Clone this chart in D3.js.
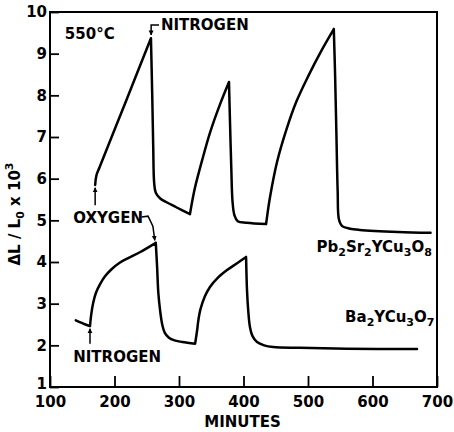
<!DOCTYPE html>
<html>
<head>
<meta charset="utf-8">
<script src="https://cdn.jsdelivr.net/npm/d3@7"></script>
<style>
  body { margin: 0; background: #fff; }
  text { font-family: 'DejaVu Sans', sans-serif; font-weight: bold; fill: #000; }
</style>
</head>
<body>
<script>
// minutes vs dL/L0 x 10^3
let pbCurve = [
  [170, 5.85], [172, 6.08], [177, 6.28], [217, 7.83], [256.5, 9.37], [258.5, 8.0], [260, 6.8],
  [261.5, 5.9], [264, 5.66], [270.5, 5.53], [280, 5.44], [295, 5.32], [317, 5.15],
  [321, 5.5], [325, 5.8], [336, 6.45], [348, 7.1], [364, 7.8], [377.5, 8.32],
  [379, 7.4], [381, 6.3], [383, 5.45], [386, 5.12], [391, 4.98], [405, 4.94],
  [435, 4.91], [438, 5.25], [441, 5.55], [452, 6.4], [467, 7.2], [482, 7.85],
  [500, 8.45], [520, 9.05], [540, 9.59], [542, 8.5], [544, 7.1], [546, 5.7],
  [548, 5.02], [553, 4.86], [565, 4.8], [580, 4.77], [640, 4.72], [690, 4.7],
];
let baCurve = [
  [140, 2.6], [155, 2.5], [162, 2.46], [164, 2.75], [167, 3.02], [171, 3.25],
  [177, 3.45], [185, 3.65], [195, 3.82], [208, 3.98], [222, 4.1], [240, 4.24],
  [264, 4.46], [266, 3.9], [268, 3.25], [271, 2.8], [274, 2.5], [278, 2.3],
  [284, 2.19], [291, 2.13], [305, 2.08], [325, 2.04], [328, 2.35], [330, 2.6],
  [333, 2.85], [340, 3.17], [348, 3.4], [360, 3.62], [374, 3.8], [390, 3.97],
  [404, 4.12], [405.5, 3.3], [407.5, 2.8], [410, 2.44], [414, 2.22], [421, 2.08],
  [432, 2.0], [446, 1.96], [487, 1.94], [560, 1.92], [669, 1.91],
];
let xTicks = [100, 200, 300, 400, 500, 600, 700];
let yTicks = [1, 2, 3, 4, 5, 6, 7, 8, 9, 10];

let dim = { width: 454, height: 432 };
let margin = { left: 50, right: 17, top: 12, bottom: 45 };
let w = dim.width - margin.left - margin.right;
let h = dim.height - margin.top - margin.bottom;

let svg = d3.select('body').append('svg').attr('width', dim.width).attr('height', dim.height);

let defs = svg.append('defs');
defs.append('marker')
  .attr('id', 'arr')
  .attr('viewBox', '0 0 10 10')
  .attr('refX', 9).attr('refY', 5)
  .attr('markerWidth', 5).attr('markerHeight', 8)
  .attr('markerUnits', 'userSpaceOnUse')
  .attr('orient', 'auto')
  .append('path').attr('d', 'M0,0L10,5L0,10Z').attr('fill', 'black');

let g = svg.append('g').attr('transform', `translate(${margin.left},${margin.top})`);

let x = d3.scaleLinear([100, 700], [0, w]);
let y = d3.scaleLinear([1, 10], [h, 0]);

let xAxis = d3.axisBottom(x).tickValues(xTicks).tickSizeInner(-11).tickSizeOuter(0).tickPadding(9);
let yAxis = d3.axisLeft(y).tickValues(yTicks).tickSizeInner(-9).tickSizeOuter(0).tickPadding(3);

g.append('g').attr('transform', `translate(0,${h})`).call(xAxis)
  .call((a) => a.select('.domain').remove());
g.append('g').call(yAxis)
  .call((a) => a.select('.domain').remove())
  .call((a) => a.selectAll('.tick text').filter((d) => d == 1).attr('dy', '0.1em'));

g.selectAll('.tick line').attr('stroke', 'black').attr('stroke-width', 1.8);
g.selectAll('.tick text').attr('font-size', 15).attr('font-family', null);

g.append('rect').attr('x', 0).attr('y', 0).attr('width', w).attr('height', h)
  .attr('fill', 'none').attr('stroke', 'black').attr('stroke-width', 2);

let line = d3.line().x((d) => x(d[0])).y((d) => y(d[1]));
let smooth = d3.line().x((d) => x(d[0])).y((d) => y(d[1])).curve(d3.curveCatmullRom.alpha(0.5));

// split at peaks and troughs so those stay sharp corners
function pieces(data) {
  let out = [];
  let cur = [data[0]];
  for (let i = 1; i < data.length; i++) {
    cur.push(data[i]);
    if (i < data.length - 1 && (data[i][1] - data[i - 1][1]) * (data[i + 1][1] - data[i][1]) < 0) {
      out.push(cur);
      cur = [data[i]];
    }
  }
  out.push(cur);
  return out;
}

g.selectAll('path.curve').data([pbCurve, baCurve]).enter().append('path')
  .attr('class', 'curve')
  .attr('d', (d) => pieces(d).map(smooth).join(''))
  .attr('fill', 'none').attr('stroke', 'black').attr('stroke-width', 2.5)
  .attr('stroke-linejoin', 'round').attr('stroke-linecap', 'round');

// annotations
let ann = g.append('g').attr('font-size', 15);

ann.append('text').attr('x', x(123)).attr('y', y(9.36)).text('550°C');

// nitrogen at top
ann.append('path')
  .attr('d', line([[269, 9.69], [256.8, 9.69], [256.8, 9.45]]))
  .attr('fill', 'none').attr('stroke', 'black').attr('stroke-width', 1.5)
  .attr('marker-end', 'url(#arr)');
ann.append('text').attr('x', x(272)).attr('y', y(9.69)).attr('dy', '0.36em').text('NITROGEN');

// oxygen
ann.append('text').attr('x', x(136)).attr('y', y(5.06)).attr('dy', '0.36em').text('OXYGEN');
ann.append('path')
  .attr('d', line([[170, 5.36], [170, 5.78]]))
  .attr('fill', 'none').attr('stroke', 'black').attr('stroke-width', 1.5)
  .attr('marker-end', 'url(#arr)');
ann.append('path')
  .attr('d', line([[242, 5.08], [252, 5.1], [259.5, 4.86], [262.5, 4.52]]))
  .attr('fill', 'none').attr('stroke', 'black').attr('stroke-width', 1.5)
  .attr('marker-end', 'url(#arr)');

// nitrogen at bottom
ann.append('text').attr('x', x(136)).attr('y', y(1.72)).attr('dy', '0.36em').text('NITROGEN');
ann.append('path')
  .attr('d', line([[162, 2.04], [162, 2.4]]))
  .attr('fill', 'none').attr('stroke', 'black').attr('stroke-width', 1.5)
  .attr('marker-end', 'url(#arr)');

// compound labels with subscripts
function formula(px, py, parts) {
  let t = ann.append('text').attr('x', px).attr('y', py).attr('text-anchor', 'end');
  let shift = 0;
  parts.forEach(([s, sub]) => {
    t.append('tspan').attr('dy', -shift).text(s);
    t.append('tspan').attr('font-size', 11).attr('dy', 4).text(sub);
    shift = 4;
  });
  return t;
}
formula(x(692), y(4.24), [['Pb', '2'], ['Sr', '2'], ['YCu', '3'], ['O', '8']]);
formula(x(696), y(2.56), [['Ba', '2'], ['YCu', '3'], ['O', '7']]);

// axis titles
g.append('text').attr('x', x(400) - 1).attr('y', h + 40).attr('text-anchor', 'middle')
  .attr('font-size', 15).text('MINUTES');

let yl = svg.append('text').attr('transform', 'translate(20,214) rotate(-90)')
  .attr('text-anchor', 'middle').attr('font-size', 15);
yl.append('tspan').text('ΔL / L');
yl.append('tspan').attr('font-size', 11).attr('dy', 4).text('0');
yl.append('tspan').attr('dy', -4).text(' x 10');
yl.append('tspan').attr('font-size', 11).attr('dy', -7).text('3');
</script>
</body>
</html>
